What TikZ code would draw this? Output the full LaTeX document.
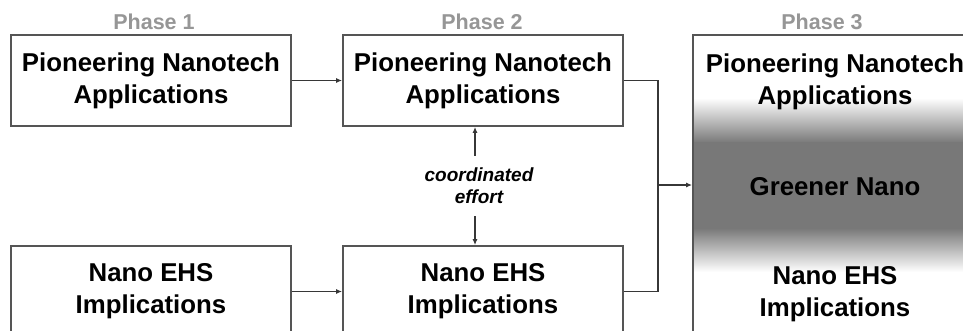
\documentclass[tikz,border=0pt]{standalone}
\usepackage{fontspec}
\setmainfont{Liberation Sans}
\usetikzlibrary{arrows.meta}
\definecolor{boxgray}{RGB}{85,85,85}
\definecolor{linegray}{RGB}{55,55,55}
\definecolor{phasegray}{RGB}{150,150,150}
\definecolor{shadegray}{RGB}{120,120,120}
\begin{document}
\begin{tikzpicture}[x=1pt,y=-1pt,
  box/.style={draw=boxgray,line width=1.8pt,fill=white,minimum width=280pt,minimum height=91pt,inner sep=0pt,align=center,font=\fontsize{25.8}{32}\selectfont\bfseries},
  boxtext/.style={inner sep=0pt,align=center,font=\fontsize{25.8}{32}\selectfont\bfseries},
  phase/.style={text=phasegray,inner sep=0pt,font=\fontsize{21.5}{24}\selectfont\bfseries},
  arr/.style={draw=linegray,line width=1.5pt,-{Latex[length=6pt,width=5pt]}},
  conn/.style={draw=linegray,line width=1.5pt}]
\useasboundingbox (0,0) rectangle (963,330);
\clip (0,0) rectangle (963,330);
\fill[white] (0,0) rectangle (963,330);
% phase labels
\node[phase] (ph1) at (154,22) {Phase 1};
\node[phase] (ph2) at (482,22) {Phase 2};
\node[phase] (ph3) at (822,22) {Phase 3};
% phase 1 and 2 boxes
\node[box] (b1) at (151,80.5) {Pioneering Nanotech\\Applications};
\node[box] (b2) at (483,80.5) {Pioneering Nanotech\\Applications};
\node[box] (b3) at (151,291.5) {Nano EHS\\Implications};
\node[box] (b4) at (483,291.5) {Nano EHS\\Implications};
% phase 3 shaded box
\fill[white] (693,35) rectangle (975,337);
\fill[top color=white,bottom color=shadegray] (693,98) rectangle (975,143);
\fill[shadegray] (693,142) rectangle (975,229);
\fill[top color=shadegray,bottom color=white] (693,228) rectangle (975,272);
\node[draw=boxgray,line width=1.8pt,minimum width=280pt,minimum height=302pt,inner sep=0pt] (p3) at (833,186) {};
\node[boxtext] (p3a) at (835,82) {Pioneering Nanotech\\Applications};
\node[boxtext] (p3b) at (835,187) {Greener Nano};
\node[boxtext] (p3c) at (835,294) {Nano EHS\\Implications};
% coordinated effort
\node[inner xsep=0pt,inner ysep=12pt,align=center,font=\fontsize{19}{22}\selectfont\bfseries\itshape] (ce) at (479,186) {coordinated\\effort};
% connectors
\draw[arr] (b1) -- (b2);
\draw[arr] (b3) -- (b4);
\coordinate (j) at (658,185);
\draw[conn] (b2.east) -| (j);
\draw[conn] (b4.east) -| (j);
\draw[arr] (j) -- (j -| p3.west);
\draw[arr] ([xshift=-4pt]ce.north) -- ([xshift=-4pt]ce.north |- b2.south);
\draw[arr] ([xshift=-4pt]ce.south) -- ([xshift=-4pt]ce.south |- b4.north);
\end{tikzpicture}
\end{document}
